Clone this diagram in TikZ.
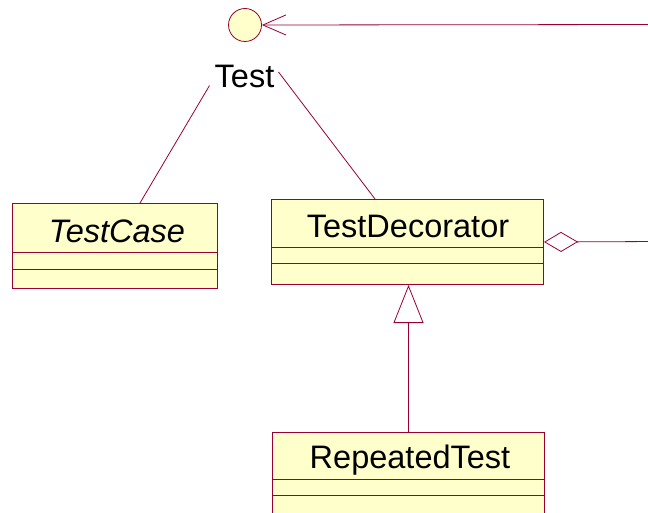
\documentclass[tikz,border=0pt]{standalone}
\usepackage{fontspec}
\setmainfont{Liberation Sans}
\usetikzlibrary{arrows.meta}
\definecolor{umlline}{HTML}{990033}
\definecolor{umlfill}{HTML}{FFFFCC}
\tikzset{
  classbox/.style={draw=umlline, fill=umlfill, line width=1pt, rectangle, inner sep=0pt, anchor=north west},
  classname/.style={anchor=base, inner sep=0pt, font=\fontsize{32.5}{32.5}\selectfont},
  divider/.style={draw=umlline, line width=0.8pt},
  conn/.style={draw=umlline, line width=0.8pt},
}
\begin{document}
\begin{tikzpicture}[x=1pt,y=-1pt]
\useasboundingbox (0,0) rectangle (648,513);
\clip (0,0) rectangle (648,513);
% interface
\node[draw=umlline, fill=umlfill, line width=0.8pt, circle, minimum size=33pt, inner sep=0pt] (iface) at (245,25) {};
\node[classname] (test) at (244.5,88) {Test};
\coordinate (farright) at (660,24.5);
\draw[conn, -{Straight Barb[length=23pt,width=20pt,line width=0.8pt]}] (farright) -- (iface.east);
% classes
\node[classbox, minimum width=205pt, minimum height=85pt] (tc) at (12,203) {};
\node[classname, font=\fontsize{32.5}{32.5}\selectfont\itshape] (tcname) at (117,242.5) {TestCase};
\draw[divider] ([yshift=-49pt]tc.north west) -- ([yshift=-49pt]tc.north east);
\draw[divider] ([yshift=-66pt]tc.north west) -- ([yshift=-66pt]tc.north east);

\node[classbox, minimum width=272pt, minimum height=85pt] (td) at (271,199) {};
\node[classname] (tdname) at (408,237) {TestDecorator};
\draw[divider] ([yshift=-48pt]td.north west) -- ([yshift=-48pt]td.north east);
\draw[divider] ([yshift=-64pt]td.north west) -- ([yshift=-64pt]td.north east);

\node[classbox, minimum width=272pt, minimum height=100pt] (rt) at (272,432) {};
\node[classname] (rtname) at (410,468) {RepeatedTest};
\draw[divider] ([yshift=-47pt]rt.north west) -- ([yshift=-47pt]rt.north east);
\draw[divider] ([yshift=-63pt]rt.north west) -- ([yshift=-63pt]rt.north east);

% realization lines from Test
\draw[conn] ([shift={(-5,-3)}]test.south west) -- (tc.north -| 140,0);
\draw[conn] ([shift={(4,-5)}]test.east) -- (td.north -| 375,0);
% aggregation
\coordinate (aggend) at (660,241.5);
\draw[conn, {Diamond[open,length=34pt,width=20pt,line width=0.8pt,fill=white]}-] (td.east) -- (aggend);
% generalization
\draw[conn, -{Triangle[open,length=38pt,width=30pt,line width=0.8pt,fill=white]}] (rt.north) -- (rt.north |- td.south);
\end{tikzpicture}
\end{document}
